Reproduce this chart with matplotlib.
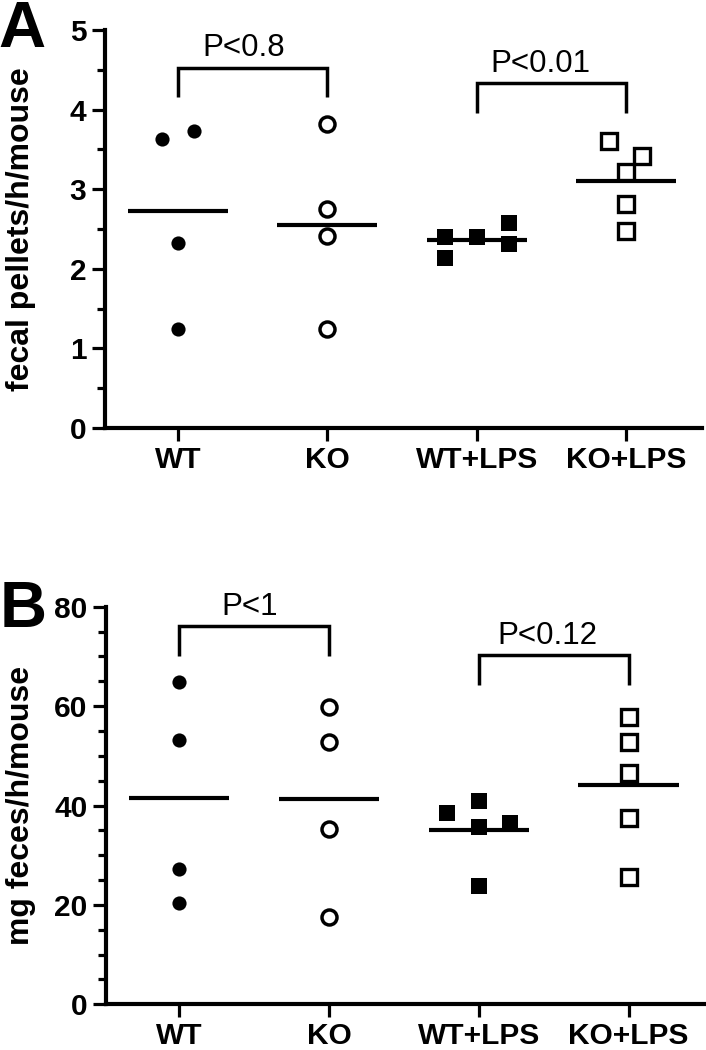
import matplotlib
matplotlib.use("Agg")
import matplotlib.pyplot as plt
import numpy as np
from matplotlib.ticker import MultipleLocator

plt.rcParams['font.family'] = ['Liberation Sans', 'DejaVu Sans']

groups = ["WT", "KO", "WT+LPS", "KO+LPS"]

# Panel A: fecal pellets/h/mouse
a_wt = [3.63, 3.73, 2.32, 1.24]
a_ko = [3.82, 2.75, 2.41, 1.24]
a_wtlps = [2.40, 2.14, 2.40, 2.57, 2.31]
a_kolps = [3.60, 3.42, 3.21, 2.81, 2.48]
a_off_wt = [-0.107, 0.107, 0, 0]
a_off_ko = [0, 0, 0, 0]
a_off_wtlps = [-0.21, -0.21, 0, 0.22, 0.22]
a_off_kolps = [-0.11, 0.11, 0, 0, 0]

# Panel B: mg feces/h/mouse
b_wt = [64.9, 53.2, 27.2, 20.4]
b_ko = [59.9, 52.8, 35.2, 17.6]
b_wtlps = [38.4, 40.9, 35.7, 36.4, 23.9]
b_kolps = [57.9, 52.8, 46.6, 37.5, 25.6]
b_off_wt = [0, 0, 0, 0]
b_off_ko = [0, 0, 0, 0]
b_off_wtlps = [-0.21, 0, 0, 0.21, 0]
b_off_kolps = [0, 0, 0, 0, 0]

# brackets: (x1, x2, top, leg_bottom, label, text_x, text_y)
a_brackets = [(0, 1, 4.52, 4.16, "P<0.8", 0.44, 4.67),
              (2, 3, 4.33, 3.96, "P<0.01", 2.43, 4.47)]
b_brackets = [(0, 1, 76.1, 70.1, "P<1", 0.47, 78.3),
              (2, 3, 70.3, 64.3, "P<0.12", 2.455, 72.5)]

LW = 3.0
styles = [dict(marker='o', ms=10.2, mfc='black', mec='black', mew=0),
          dict(marker='o', ms=10.8, mfc='white', mec='black', mew=2.5),
          dict(marker='s', ms=11.9, mfc='black', mec='black', mew=0),
          dict(marker='s', ms=11.6, mfc='white', mec='black', mew=2.4)]

fig = plt.figure(figsize=(7.06, 10.5), dpi=100)


def panel(rect, data, offs, brackets, ymax, major, minor, ylabel, letter, letter_xy, ylab_x):
    ax = fig.add_axes(rect)
    for i, (vals, off) in enumerate(zip(data, offs)):
        xs = np.array(off) + i
        ax.plot(xs, vals, linestyle='none', zorder=3, clip_on=False, **styles[i])
        m = np.mean(vals)
        ax.plot([i - 0.335, i + 0.335], [m, m], color='black', lw=LW, zorder=2,
                solid_capstyle='butt')
    for x1, x2, top, bot, lab, tx, ty in brackets:
        ax.plot([x1, x1, x2, x2], [bot, top, top, bot], color='black', lw=2.5,
                solid_capstyle='butt', solid_joinstyle='miter', clip_on=False)
        ax.text(tx, ty, lab, ha='center', va='baseline', fontsize=22.5)
    ax.set_xlim(-0.49, 3.51)
    ax.set_ylim(0, ymax)
    ax.set_xticks(range(4))
    ax.set_xticklabels(groups, fontsize=21.5, fontweight='bold')
    ax.yaxis.set_major_locator(MultipleLocator(major))
    ax.yaxis.set_minor_locator(MultipleLocator(minor))
    for lbl in ax.get_yticklabels():
        lbl.set_fontsize(21.5)
        lbl.set_fontweight('bold')
    ax.tick_params(axis='both', which='major', length=9.4, width=2.3, pad=4)
    ax.tick_params(axis='x', which='major', pad=3.5)
    ax.tick_params(axis='y', which='minor', length=6, width=2.3)
    ax.spines['top'].set_visible(False)
    ax.spines['right'].set_visible(False)
    ax.spines['left'].set_linewidth(LW)
    ax.spines['bottom'].set_linewidth(LW)
    ax.patch.set_alpha(0)
    y0, h = rect[1], rect[3]
    fig.text(ylab_x, y0 + h / 2, ylabel, rotation=90, ha='center', va='center',
             fontsize=23, fontweight='bold')
    fig.text(letter_xy[0], letter_xy[1], letter, ha='left', va='baseline',
             fontsize=47, fontweight='bold')
    return ax


panel([0.1487, 0.5924, 0.8456, 0.3790],
      [a_wt, a_ko, a_wtlps, a_kolps],
      [a_off_wt, a_off_ko, a_off_wtlps, a_off_kolps],
      a_brackets, 5, 1, 0.5, "fecal pellets/h/mouse", "A", (-0.002, 0.955), 0.030)

panel([0.1500, 0.0435, 0.8486, 0.3787],
      [b_wt, b_ko, b_wtlps, b_kolps],
      [b_off_wt, b_off_ko, b_off_wtlps, b_off_kolps],
      b_brackets, 80, 20, 5, "mg feces/h/mouse", "B", (0.0, 0.403), 0.030)

fig.savefig("out.png", dpi=100)
